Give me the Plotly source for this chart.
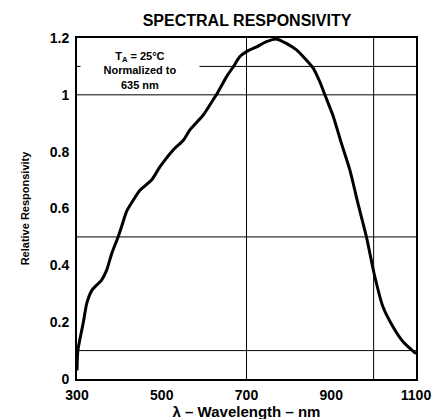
import plotly.graph_objects as go

wavelength_nm = [300, 302, 315, 323, 335, 346, 358, 370, 382, 397, 405, 417, 433, 449, 476,
                 496, 527, 551, 566, 598, 621, 629, 653, 669, 684, 700, 724, 747, 771, 794,
                 818, 834, 857, 873, 885, 905, 924, 944, 963, 983, 1003, 1022, 1046, 1070, 1100]
responsivity = [0.03, 0.10, 0.20, 0.266, 0.312, 0.33, 0.348, 0.383, 0.442, 0.50, 0.535, 0.59,
                0.63, 0.665, 0.70, 0.747, 0.806, 0.84, 0.876, 0.929, 0.982, 1.0, 1.064, 1.099,
                1.134, 1.152, 1.169, 1.187, 1.196, 1.181, 1.158, 1.134, 1.095, 1.046, 1.0,
                0.923, 0.829, 0.735, 0.618, 0.50, 0.359, 0.254, 0.183, 0.13, 0.089]

x_ticks = [300, 500, 700, 900, 1100]
y_ticks = [0, 0.2, 0.4, 0.6, 0.8, 1, 1.2]
y_tick_text = ["0", "0.2", "0.4", "0.6", "0.8", "1", "1.2"]
grid_x = [700, 1000]
grid_y = [1.1, 1.0, 0.5, 0.1]

FONT = "Liberation Sans, Arial, Helvetica, sans-serif"

fig = go.Figure()
fig.add_trace(go.Scatter(x=wavelength_nm, y=responsivity, mode="lines",
                         line=dict(color="black", width=3, shape="spline", smoothing=0.6),
                         hoverinfo="skip", showlegend=False))

shapes = []
for gx in grid_x:
    shapes.append(dict(type="line", xref="x", yref="paper", x0=gx, x1=gx, y0=0, y1=1,
                       line=dict(color="black", width=1), layer="below"))
for gy in grid_y:
    shapes.append(dict(type="line", xref="paper", yref="y", x0=0, x1=1, y0=gy, y1=gy,
                       line=dict(color="black", width=1), layer="below"))

fig.update_layout(
    width=441, height=419,
    margin=dict(l=69, r=33, t=30, b=48, autoexpand=False),
    paper_bgcolor="white", plot_bgcolor="white",
    font=dict(family=FONT, color="black"),
    title=dict(text="<b>SPECTRAL RESPONSIVITY</b>", x=0.542, xanchor="center",
               y=0.97, yanchor="middle", font=dict(size=16, family=FONT)),
    shapes=shapes,
    showlegend=False,
)
fig.update_xaxes(range=[300, 1100], tickvals=x_ticks,
                 ticktext=[f"<b>{v}</b>" for v in x_ticks],
                 tickfont=dict(size=14), showgrid=False, zeroline=False,
                 showline=True, linecolor="black", linewidth=2, mirror=True, ticks="",
                 ticklabelstandoff=2, automargin=False,
                 title=dict(text="<b>λ – Wavelength – nm</b>", font=dict(size=15), standoff=0))
fig.update_yaxes(range=[0, 1.2], tickvals=y_ticks,
                 ticktext=[f"<b>{t}</b>" for t in y_tick_text],
                 tickfont=dict(size=14), showgrid=False, zeroline=False,
                 showline=True, linecolor="black", linewidth=2, mirror=True, ticks="",
                 ticklabelstandoff=3, automargin=False,
                 title=dict(text="<b>Relative Responsivity</b>", font=dict(size=11), standoff=18))

fig.add_annotation(x=448, y=1.087, xref="x", yref="y",
                   text="<b>T<sub>A</sub> = 25°C<br>Normalized to<br>635 nm</b>",
                   showarrow=False, font=dict(size=11, family=FONT),
                   bgcolor="white", width=118, align="center", borderpad=0)

fig.write_html("out.html")
